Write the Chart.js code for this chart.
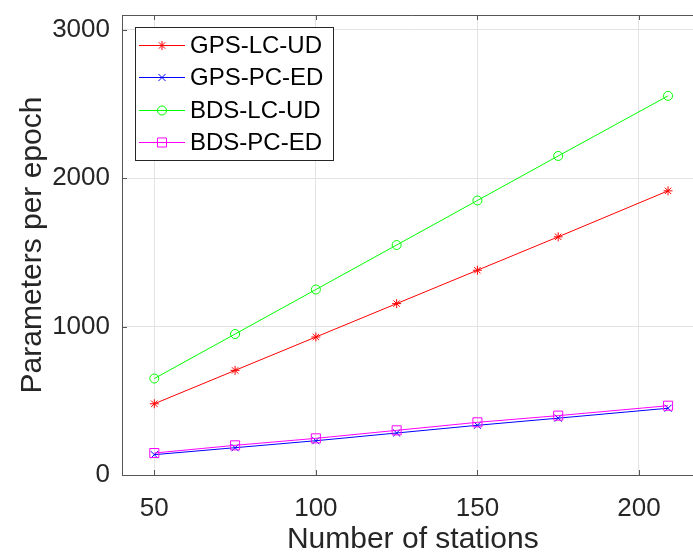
<!DOCTYPE html>
<html>
<head>
<meta charset="utf-8">
<script src="https://cdn.jsdelivr.net/npm/chart.js@4.4.1/dist/chart.umd.min.js"></script>
<style>
  html, body { margin: 0; padding: 0; background: #fff; overflow: hidden; }
  #wrap { width: 693px; height: 555px; overflow: hidden; }
  canvas { display: block; }
</style>
</head>
<body>
<div id="wrap"><canvas id="chart" width="711" height="555"></canvas></div>
<script>
// ============ DATA ============
const stations = [50, 75, 100, 125, 150, 175, 209];
const gpsLcUd  = [480, 705, 930, 1155, 1380, 1605, 1915];
const gpsPcEd  = [137, 184, 231, 283, 335, 383, 450];
const bdsLcUd  = [650, 950, 1250, 1550, 1850, 2150, 2555];
const bdsPcEd  = [148, 200, 247, 301, 355, 400, 467];
const seriesNames = ['GPS-LC-UD', 'GPS-PC-ED', 'BDS-LC-UD', 'BDS-PC-ED'];
const xTicks = [50, 100, 150, 200];
const yTicks = [0, 1000, 2000, 3000];

const FONT = "'Liberation Sans', Arial, sans-serif";
const AXIS = '#555555';

function pts(ys) { return stations.map((x, i) => ({ x, y: ys[i] })); }

function series(label, ys, color, style, radius, order) {
  return {
    label, data: pts(ys), order,
    borderColor: color, borderWidth: 1,
    pointStyle: style, pointRadius: radius, pointHoverRadius: radius,
    pointBorderColor: color, pointBackgroundColor: 'rgba(0,0,0,0)', pointBorderWidth: 1,
    tension: 0, fill: false
  };
}

// ============ FRAME + LEGEND ============
const framePlugin = {
  id: 'frame',
  afterDraw(chart) {
    const { ctx, chartArea: a, scales: { x, y } } = chart;
    ctx.save();
    ctx.strokeStyle = AXIS;
    ctx.lineWidth = 1;
    ctx.beginPath();
    ctx.moveTo(a.left, a.top + 0.5); ctx.lineTo(a.right, a.top + 0.5);
    // inward ticks
    xTicks.forEach(v => {
      const px = Math.round(x.getPixelForValue(v)) + 0.5;
      ctx.moveTo(px, a.bottom); ctx.lineTo(px, a.bottom - 5);
      ctx.moveTo(px, a.top); ctx.lineTo(px, a.top + 5);
    });
    yTicks.forEach(v => {
      const py = Math.round(y.getPixelForValue(v)) + 0.5;
      ctx.moveTo(a.left, py); ctx.lineTo(a.left + 5, py);
    });
    ctx.stroke();

    // legend box
    const bx = 135, by = 27, bw = 198, bh = 133;
    ctx.fillStyle = '#fff';
    ctx.fillRect(bx, by, bw, bh);
    ctx.strokeStyle = '#262626';
    ctx.strokeRect(bx + 0.5, by + 0.5, bw, bh);
    ctx.font = '24px ' + FONT;
    ctx.textBaseline = 'middle';
    chart.data.datasets.forEach((ds, i) => {
      const cy = Math.round(45 + i * 32.4) + 0.5;
      ctx.strokeStyle = ds.borderColor;
      ctx.fillStyle = 'rgba(0,0,0,0)';
      ctx.lineWidth = 1;
      ctx.beginPath();
      ctx.moveTo(139, cy); ctx.lineTo(185, cy);
      ctx.stroke();
      Chart.helpers.drawPoint(ctx, {
        pointStyle: ds.pointStyle, radius: ds.pointRadius, rotation: 0, borderWidth: 1
      }, 162, cy);
      ctx.fillStyle = '#000';
      ctx.fillText(ds.label, 190, cy + 1);
    });
    ctx.restore();
  }
};

// ============ CHART ============
new Chart(document.getElementById('chart'), {
  type: 'line',
  data: {
    datasets: [
      series(seriesNames[0], gpsLcUd, '#ff0000', 'star', 4.5, 4),
      series(seriesNames[1], gpsPcEd, '#0000ff', 'crossRot', 5, 3),
      series(seriesNames[2], bdsLcUd, '#00ff00', 'circle', 4.5, 2),
      series(seriesNames[3], bdsPcEd, '#ff00ff', 'rect', 6.4, 1)
    ]
  },
  options: {
    responsive: false,
    animation: false,
    devicePixelRatio: 1,
    layout: { padding: { top: 15, right: 0, left: 0, bottom: 0 } },
    plugins: { legend: { display: false }, tooltip: { enabled: false } },
    scales: {
      x: {
        type: 'linear', min: 40, max: 220,
        afterBuildTicks: s => { s.ticks = xTicks.map(v => ({ value: v })); },
        afterFit: s => { s.height = 80; s.paddingLeft = 0; s.paddingRight = 0; },
        grid: { color: '#e3e3e3', drawTicks: false },
        border: { color: AXIS, width: 1 },
        ticks: { color: '#262626', padding: 18, font: { family: FONT, size: 26 },
                 callback: v => String(v) },
        title: { display: true, text: 'Number of stations', color: '#262626',
                 padding: { top: 0, bottom: 0 }, font: { family: FONT, size: 30, lineHeight: 1 } }
      },
      y: {
        type: 'linear', min: 0, max: 3100,
        afterBuildTicks: s => { s.ticks = yTicks.map(v => ({ value: v })); },
        afterFit: s => { s.width = 122; s.paddingTop = 0; s.paddingBottom = 0; },
        grid: { color: '#e3e3e3', drawTicks: false },
        border: { color: AXIS, width: 1 },
        ticks: { color: '#262626', padding: 12, font: { family: FONT, size: 26 },
                 callback: v => String(v) },
        title: { display: true, text: 'Parameters per epoch', color: '#262626',
                 padding: { top: 18, bottom: 0 }, font: { family: FONT, size: 30, lineHeight: 1 } }
      }
    }
  },
  plugins: [framePlugin]
});
</script>
</body>
</html>
